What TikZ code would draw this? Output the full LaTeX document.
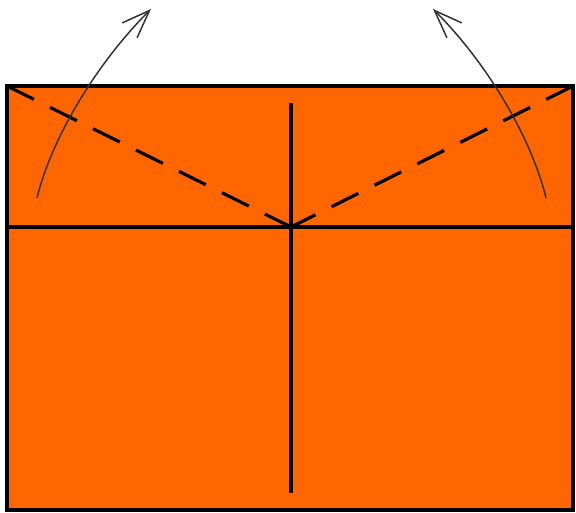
\documentclass[tikz,border=0pt]{standalone}
\usetikzlibrary{arrows.meta}
\definecolor{paper}{HTML}{FF6600}
\definecolor{arrowgray}{HTML}{333333}
\tikzset{
  edge/.style={line width=3.6pt, black},
  fold/.style={line width=3.2pt, black},
  valley/.style={line width=3.2pt, black, dash pattern=on 30pt off 18pt},
  liftarrow/.style={line width=1.5pt, arrowgray, -{Straight Barb[length=28pt,width=21pt]}}
}
\begin{document}
\begin{tikzpicture}[x=1pt,y=-1pt]
\useasboundingbox (0,0) rectangle (576,513);
\coordinate (tl) at (7,86);
\coordinate (tr) at (573,86);
\coordinate (br) at (573,510);
\coordinate (bl) at (7,510);
\coordinate (ml) at (7,227);
\coordinate (mr) at (573,227);
\coordinate (c) at (291,227);
\coordinate (vt) at (291,103);
\coordinate (vb) at (291,493);
\coordinate (la) at (37,198);
\coordinate (lb) at (151,9);
\coordinate (ra) at (546,198);
\coordinate (rb) at (433,9);
\fill[paper] (tl) rectangle (br);
\draw[fold] (ml) -- (mr);
\draw[fold] (vt) -- (vb);
\draw[valley] (tl) -- (c);
\draw[valley] (tr) -- (c);
\draw[edge] (tl) rectangle (br);
\draw[liftarrow] (la) .. controls (51,140) and (95,65) .. (lb);
\draw[liftarrow] (ra) .. controls (532,140) and (489,65) .. (rb);
\end{tikzpicture}
\end{document}
